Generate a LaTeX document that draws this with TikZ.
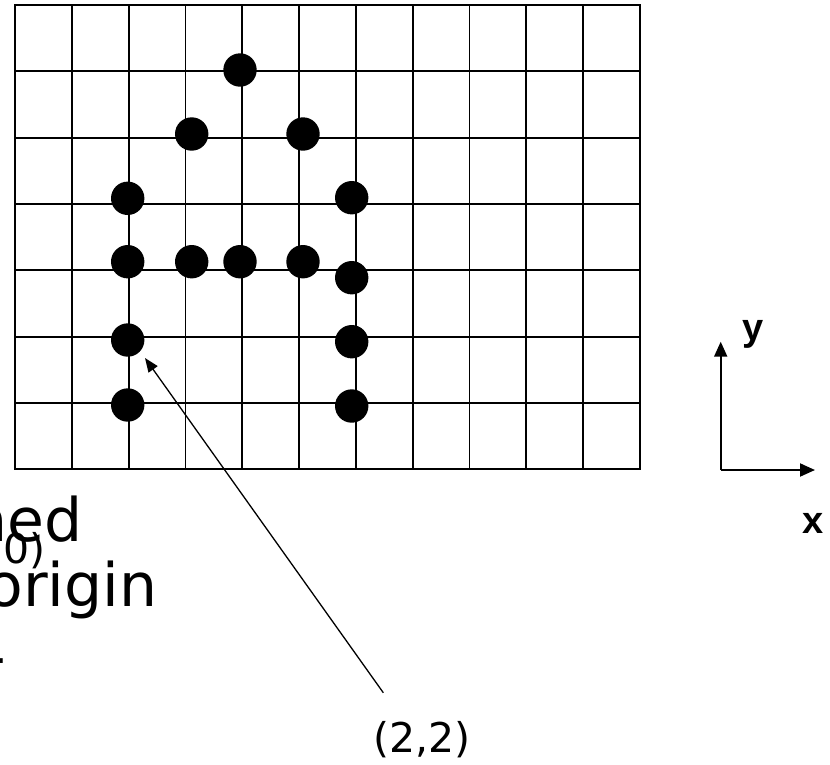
\documentclass[tikz,border=0pt]{standalone}
\usepackage{fontspec}
\setmainfont{DejaVu Sans}
\newfontfamily\axfont{Liberation Sans}
\usetikzlibrary{arrows.meta}
\tikzset{
  gridline/.style={line width=1.8pt},
  dot/.style={circle,fill=black,minimum size=33.4pt,inner sep=0pt},
  bigtext/.style={inner sep=0pt,font=\fontsize{60}{72}\selectfont},
  midtext/.style={inner sep=0pt,font=\fontsize{41}{49}\selectfont},
  axlabel/.style={inner sep=0pt,font=\axfont\bfseries\fontsize{38}{44}\selectfont},
  axisarrow/.style={line width=2pt,-{Triangle[length=15pt,width=13pt]}},
  pointer/.style={line width=1.3pt,-{Triangle[length=14pt,width=11pt]}}
}
\begin{document}
\begin{tikzpicture}[x=1pt,y=-1pt]
\useasboundingbox (0,0) rectangle (830,764);
\clip (0,0) rectangle (830,764);
\fill[white] (0,0) rectangle (830,764);
% grid
\foreach \i in {1,...,10} {
  \draw[gridline] ({15+\i*56.818},5) -- ({15+\i*56.818},469.3);
}
\foreach \j in {1,...,6} {
  \draw[gridline] (15,{5+\j*66.33}) -- (640,{5+\j*66.33});
}
\draw[line width=2.2pt] (15,5) rectangle (640,469.3);
% dots
\node[dot] (d1) at (240,70) {};
\node[dot] (d2) at (191.7,134) {};
\node[dot] (d3) at (303,134) {};
\node[dot] (d4) at (127.7,198.3) {};
\node[dot] (d5) at (351.7,197.7) {};
\node[dot] (d6) at (127.7,261.7) {};
\node[dot] (d7) at (191.7,261.7) {};
\node[dot] (d8) at (240,261.7) {};
\node[dot] (d9) at (303,261.7) {};
\node[dot] (d10) at (351.7,277.7) {};
\node[dot] (d11) at (351.7,341.7) {};
\node[dot] (d12) at (351.7,406) {};
\node[dot] (d13) at (127.7,340) {};
\node[dot] (d14) at (127.7,405) {};
% pointer
\coordinate (ptrS) at (383.3,692.7);
\coordinate (ptrE) at (145,358);
\draw[pointer] (ptrS) -- (ptrE);
\node[midtext,anchor=base] (lab22) at (422,752) {(2,2)};
% axes
\coordinate (O) at (720.7,470);
\coordinate (yA) at (720.7,341.7);
\coordinate (xA) at (815,470);
\draw[axisarrow] (O) -- (yA);
\draw[axisarrow] (O) -- (xA);
\node[axlabel,anchor=base] (ylab) at (753,340) {y};
\node[axlabel,anchor=base] (xlab) at (813,533) {x};
% cut-off text at left
\node[bigtext,anchor=base east] (t1) at (82.5,541.7) {ned};
\node[midtext,anchor=base east] (t0) at (45.5,563) {0)};
\node[bigtext,anchor=base east] (t2) at (157.4,606.7) {origin};
\node[bigtext,anchor=base east] (t3) at (6.3,677) {-};
\end{tikzpicture}
\end{document}
